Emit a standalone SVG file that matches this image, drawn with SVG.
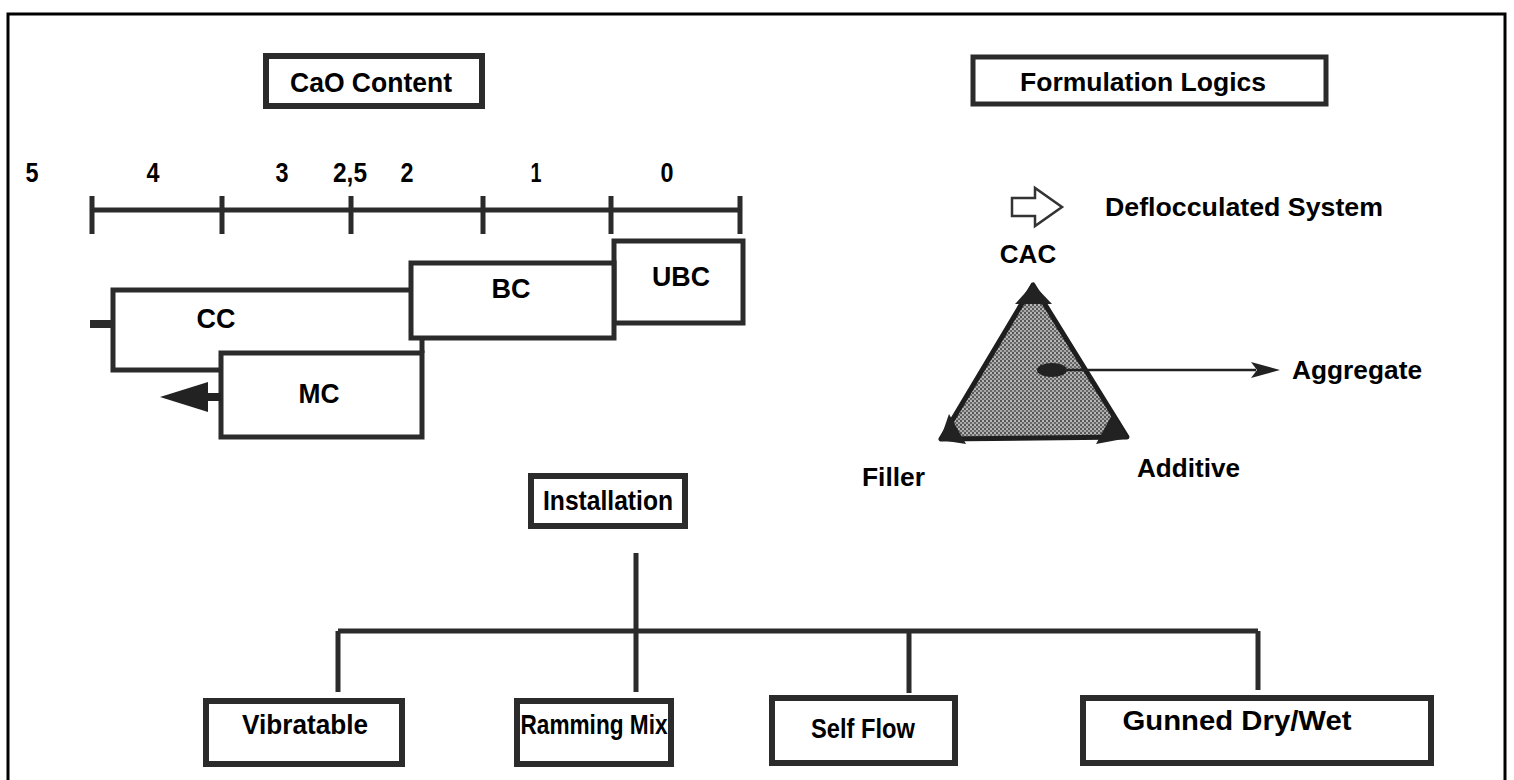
<svg xmlns="http://www.w3.org/2000/svg" width="1514" height="780" viewBox="0 0 1514 780">
<defs>
<style>
.t{font-family:"Liberation Sans",Arial,sans-serif;font-weight:bold;font-size:26px;fill:#000}
.n{font-size:28px}
.c{text-anchor:middle}
.box{fill:#fff;stroke:#2b2b2b;stroke-width:6}
.bx{fill:#fff;stroke:#2b2b2b;stroke-width:5}
.ln{stroke:#2b2b2b;stroke-width:5;fill:none}
.dk{fill:#222}
</style>
<pattern id="stip" width="4" height="4" patternUnits="userSpaceOnUse">
<rect width="4" height="4" fill="#a8a8a8"/>
<circle cx="1" cy="1" r="1" fill="#3a3a3a"/>
<circle cx="3" cy="3" r="0.9" fill="#4a4a4a"/>
<circle cx="3" cy="1" r="0.6" fill="#e8e8e8"/>
</pattern>
</defs>
<rect width="1514" height="780" fill="#fff"/>
<path d="M8,780 V14 H1505 V780" fill="none" stroke="#000" stroke-width="3"/>

<g id="cao-content"><rect class="box" x="266" y="56" width="216" height="50"/><text class="t n c" x="371" y="92" textLength="162" lengthAdjust="spacingAndGlyphs">CaO Content</text></g>
<g id="formulation-logics"><rect class="bx" x="973" y="57" width="353" height="47"/><text class="t c" x="1143" y="91" textLength="246" lengthAdjust="spacingAndGlyphs">Formulation Logics</text></g>

<g id="scale">
<text class="t n c" x="32" y="182" textLength="13" lengthAdjust="spacingAndGlyphs">5</text>
<text class="t n c" x="153" y="182" textLength="13" lengthAdjust="spacingAndGlyphs">4</text>
<text class="t n c" x="282" y="182" textLength="13" lengthAdjust="spacingAndGlyphs">3</text>
<text class="t n c" x="350" y="182" textLength="34" lengthAdjust="spacingAndGlyphs">2,5</text>
<text class="t n c" x="407" y="182" textLength="13" lengthAdjust="spacingAndGlyphs">2</text>
<text class="t n c" x="536" y="182" textLength="11" lengthAdjust="spacingAndGlyphs">1</text>
<text class="t n c" x="667" y="182" textLength="13" lengthAdjust="spacingAndGlyphs">0</text>
<path class="ln" stroke-width="4" d="M92,210 H740 M92,196 V234 M222,196 V234 M351,196 V234 M483,196 V234 M611,196 V234 M740,196 V234"/>
</g>

<g id="cc"><path class="ln" d="M411,290 H113 V370 H222"/><rect x="90" y="320" width="23" height="8" fill="#2b2b2b"/><text class="t n c" x="216" y="328" textLength="39" lengthAdjust="spacingAndGlyphs">CC</text></g>
<g id="ubc"><rect class="bx" x="614" y="241" width="129" height="82"/><text class="t n c" x="681" y="286" textLength="58" lengthAdjust="spacingAndGlyphs">UBC</text></g>
<g id="bc"><rect class="bx" x="411" y="263" width="203" height="75"/><text class="t n c" x="511" y="298" textLength="39" lengthAdjust="spacingAndGlyphs">BC</text></g>
<g id="mc"><rect class="bx" x="221" y="353" width="201" height="84"/><path class="ln" d="M422,338 V353"/><text class="t n c" x="319" y="403" textLength="41" lengthAdjust="spacingAndGlyphs">MC</text>
<polygon class="dk" points="160,397 208,382 208,412"/><rect x="206" y="393" width="15" height="8" fill="#222"/></g>

<g id="deflocculated">
<polygon points="1012,198 1035,198 1035,188 1062,207 1035,226 1035,216 1012,216" fill="#fff" stroke="#333" stroke-width="2.5"/>
<text class="t" x="1105" y="216" textLength="278" lengthAdjust="spacingAndGlyphs">Deflocculated System</text>
</g>

<g id="triangle">
<polygon points="1033,285 941,439 1127,437" fill="url(#stip)" stroke="#1e1e1e" stroke-width="5" stroke-linejoin="round"/>
<polygon class="dk" points="1033,284 1015,304 1052,304"/>
<polygon class="dk" points="940,440 949,414 966,444"/>
<polygon class="dk" points="1128,438 1113,413 1096,444"/>
<ellipse class="dk" cx="1052" cy="370" rx="15" ry="7"/>
</g>
<g id="labels-tri">
<text class="t c" x="1028" y="263">CAC</text>
<text class="t" x="1292" y="379" textLength="130" lengthAdjust="spacingAndGlyphs">Aggregate</text>
<text class="t" x="1137" y="477" textLength="103" lengthAdjust="spacingAndGlyphs">Additive</text>
<text class="t" x="862" y="486" textLength="63" lengthAdjust="spacingAndGlyphs">Filler</text>
</g>

<g id="connectors">
<path d="M1067,370 H1256" stroke="#222" stroke-width="2.5" fill="none"/>
<polygon class="dk" points="1280,370 1251,362 1257,370 1251,378"/>
<path class="ln" d="M636,553 V692 M338,631 H1258 M338,631 V692 M909,631 V693 M1258,631 V690"/>
</g>

<g id="installation"><rect class="box" x="531" y="476" width="154" height="50"/><text class="t n c" x="608" y="510" textLength="130" lengthAdjust="spacingAndGlyphs">Installation</text></g>
<g id="vibratable"><rect class="box" x="206" y="701" width="196" height="63"/><text class="t n c" x="305" y="734" textLength="126" lengthAdjust="spacingAndGlyphs">Vibratable</text></g>
<g id="ramming"><rect class="box" x="517" y="701" width="154" height="63"/><text class="t n c" x="594" y="734" textLength="147" lengthAdjust="spacingAndGlyphs">Ramming Mix</text></g>
<g id="selfflow"><rect class="box" x="772" y="698" width="183" height="65"/><text class="t n c" x="863" y="738" textLength="104" lengthAdjust="spacingAndGlyphs">Self Flow</text></g>
<g id="gunned"><rect class="box" x="1083" y="698" width="348" height="65"/><text class="t n c" x="1237" y="730" textLength="229" lengthAdjust="spacingAndGlyphs">Gunned Dry/Wet</text></g>
</svg>
